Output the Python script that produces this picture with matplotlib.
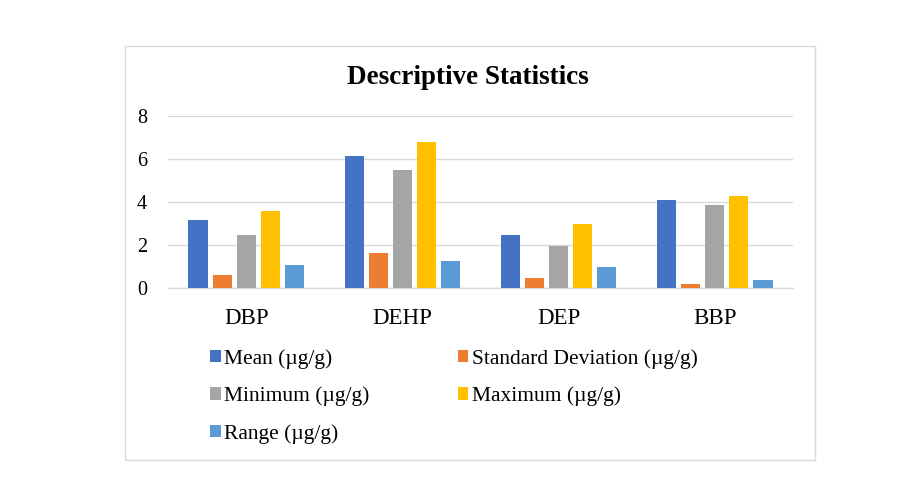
import matplotlib
matplotlib.use("Agg")
import matplotlib.pyplot as plt
from matplotlib.patches import Rectangle
import numpy as np

categories = ["DBP", "DEHP", "DEP", "BBP"]
series_names = ["Mean (\u00b5g/g)", "Standard Deviation (\u00b5g/g)", "Minimum (\u00b5g/g)",
                "Maximum (\u00b5g/g)", "Range (\u00b5g/g)"]
mean_vals = [3.17, 6.15, 2.48, 4.10]
sd_vals = [0.62, 1.64, 0.48, 0.20]
min_vals = [2.48, 5.50, 1.98, 3.87]
max_vals = [3.59, 6.80, 2.99, 4.29]
range_vals = [1.08, 1.27, 0.99, 0.39]
yticks = [0, 2, 4, 6, 8]
colors = ["#4472C4", "#ED7D31", "#A5A5A5", "#FFC000", "#5B9BD5"]

plt.rcParams['font.family'] = ['Liberation Serif', 'DejaVu Serif']

W, H = 917, 496
fig = plt.figure(figsize=(W / 100, H / 100), dpi=100)
fig.patch.set_facecolor("white")

# chart border
fig.patches.append(Rectangle((124.5 / W, 1 - 459.5 / H), 690 / W, 414 / H,
                             transform=fig.transFigure, fill=False,
                             edgecolor="#d9d9d9", linewidth=1.0))

ax = fig.add_axes([168 / W, 1 - 288.3 / H, 625 / W, 172.3 / H])
data = [mean_vals, sd_vals, min_vals, max_vals, range_vals]
x = np.arange(len(categories))
step = 0.154
width = 0.122
handles = []
for j, (vals, name, c) in enumerate(zip(data, series_names, colors)):
    b = ax.bar(x + (j - 2) * step, vals, width, color=c, label=name, zorder=3)
    handles.append(b)

ax.set_xlim(-0.5, len(categories) - 0.5)
ax.set_ylim(0, 8)
ax.set_yticks(yticks)
ax.set_yticklabels([str(v) for v in yticks], fontsize=14.5)
ax.set_xticks(x)
ax.set_xticklabels(categories, fontsize=16.5)
ax.tick_params(axis='y', length=0, pad=15)
ax.tick_params(axis='x', length=0, pad=14)
for s in ["top", "right", "left"]:
    ax.spines[s].set_visible(False)
ax.spines["bottom"].set_color("#d9d9d9")
ax.spines["bottom"].set_linewidth(1.0)
ax.yaxis.grid(True, color="#d9d9d9", linewidth=1.0, zorder=0)
ax.set_axisbelow(True)

fig.text(468 / W, 1 - 84 / H, "Descriptive Statistics", ha="center", va="baseline",
         fontsize=19.5, fontweight="bold")

order = [0, 2, 4, 1, 3]
leg = fig.legend([handles[i] for i in order], [series_names[i] for i in order],
                 ncol=2, loc="upper left", bbox_to_anchor=(210 / W, 1 - 349 / H),
                 frameon=False, fontsize=15.5, handlelength=0.5, handleheight=0.5,
                 handletextpad=0.15, columnspacing=4.1, labelspacing=0.82,
                 borderaxespad=0, borderpad=0)

fig.savefig("out.png", dpi=100)
